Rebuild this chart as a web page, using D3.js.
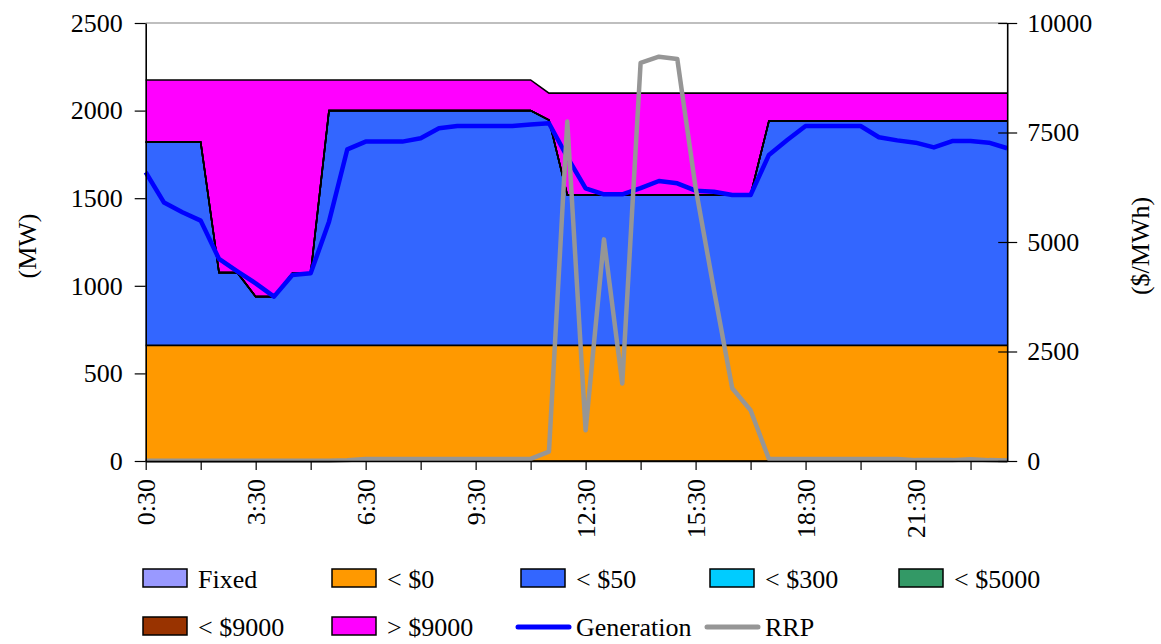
<!DOCTYPE html>
<html>
<head>
<meta charset="utf-8">
<script src="https://cdn.jsdelivr.net/npm/d3@7"></script>
<style>
    body { margin: 0; background: #fff; }
    svg { display: block; font-family: "Liberation Serif", "Times New Roman", serif; }
</style>
</head>
<body>
<div id="chart"></div>
<script>
// ============================================================================
// Half-hourly dispatch bids by price band, with generation and RRP
// ============================================================================

const times = ['0:30', '1:00', '1:30', '2:00', '2:30', '3:00', '3:30', '4:00', '4:30', '5:00', '5:30', '6:00',
    '6:30', '7:00', '7:30', '8:00', '8:30', '9:00', '9:30', '10:00', '10:30', '11:00', '11:30', '12:00',
    '12:30', '13:00', '13:30', '14:00', '14:30', '15:00', '15:30', '16:00', '16:30', '17:00', '17:30', '18:00',
    '18:30', '19:00', '19:30', '20:00', '20:30', '21:00', '21:30', '22:00', '22:30', '23:00', '23:30', '24:00'];

// MW offered in each price band (stacked)
const fixed = [0, 0, 0, 0, 0, 0, 0, 0, 0, 0, 0, 0, 0, 0, 0, 0, 0, 0, 0, 0, 0, 0, 0, 0,
    0, 0, 0, 0, 0, 0, 0, 0, 0, 0, 0, 0, 0, 0, 0, 0, 0, 0, 0, 0, 0, 0, 0, 0];
const below0 = [660, 660, 660, 660, 660, 660, 660, 660, 660, 660, 660, 660, 660, 660, 660, 660, 660, 660, 660, 660, 660, 660, 660, 660,
    660, 660, 660, 660, 660, 660, 660, 660, 660, 660, 660, 660, 660, 660, 660, 660, 660, 660, 660, 660, 660, 660, 660, 660];
const below50 = [1160, 1160, 1160, 1160, 415, 415, 278, 278, 411, 411, 1340, 1340, 1340, 1340, 1340, 1340, 1340, 1340, 1340, 1340, 1340, 1340, 1286, 858,
    858, 858, 858, 858, 858, 858, 858, 858, 858, 858, 1280, 1280, 1280, 1280, 1280, 1280, 1280, 1280, 1280, 1280, 1280, 1280, 1280, 1280];
const below300 = [0, 0, 0, 0, 0, 0, 0, 0, 0, 0, 0, 0, 0, 0, 0, 0, 0, 0, 0, 0, 0, 0, 0, 0,
    0, 0, 0, 0, 0, 0, 0, 0, 0, 0, 0, 0, 0, 0, 0, 0, 0, 0, 0, 0, 0, 0, 0, 0];
const below5000 = [0, 0, 0, 0, 0, 0, 0, 0, 0, 0, 0, 0, 0, 0, 0, 0, 0, 0, 0, 0, 0, 0, 0, 0,
    0, 0, 0, 0, 0, 0, 0, 0, 0, 0, 0, 0, 0, 0, 0, 0, 0, 0, 0, 0, 0, 0, 0, 0];
const below9000 = [0, 0, 0, 0, 0, 0, 0, 0, 0, 0, 0, 0, 0, 0, 0, 0, 0, 0, 0, 0, 0, 0, 0, 0,
    0, 0, 0, 0, 0, 0, 0, 0, 0, 0, 0, 0, 0, 0, 0, 0, 0, 0, 0, 0, 0, 0, 0, 0];
const above9000 = [355, 355, 355, 355, 1100, 1100, 1237, 1237, 1104, 1104, 175, 175, 175, 175, 175, 175, 175, 175, 175, 175, 175, 175, 154, 582,
    582, 582, 582, 582, 582, 582, 582, 582, 582, 582, 160, 160, 160, 160, 160, 160, 160, 160, 160, 160, 160, 160, 160, 160];

// MW generated
const generation = [1648, 1475, 1420, 1372, 1153, 1083, 1014, 938, 1062, 1071, 1366, 1779, 1823, 1823, 1823, 1842, 1899, 1912, 1912, 1912, 1912, 1920, 1928, 1735,
    1556, 1522, 1522, 1557, 1598, 1585, 1543, 1537, 1518, 1518, 1747, 1832, 1912, 1912, 1912, 1912, 1848, 1830, 1817, 1790, 1826, 1826, 1817, 1785];

// Regional reference price, $/MWh
const rrp = [5, 5, 5, 5, 5, 5, 5, 5, 5, 5, 5, 20, 45, 45, 45, 45, 45, 45, 45, 45, 45, 50, 212, 7750,
    700, 5060, 1770, 9090, 9230, 9180, 6240, 3910, 1660, 1160, 45, 45, 45, 45, 45, 45, 45, 45, 20, 20, 20, 40, 20, 10];

const bandKeys = ['Fixed', '< $0', '< $50', '< $300', '< $5000', '< $9000', '> $9000'];
const bandValues = [fixed, below0, below50, below300, below5000, below9000, above9000];
const bandColors = ['#9999FF', '#FF9900', '#3366FF', '#00CCFF', '#339966', '#993300', '#FF00FF'];

const leftTicks = [0, 500, 1000, 1500, 2000, 2500];
const rightTicks = [0, 2500, 5000, 7500, 10000];

// ----------------------------------------------------------------------------
const width = 1161, height = 644;
const plot = { left: 145.7, right: 1007.2, top: 23, bottom: 461 };
const FONT = '26px';
const FAMILY = '"Liberation Serif", "Times New Roman", serif';

const svg = d3.select('#chart').append('svg')
    .attr('width', width).attr('height', height);

const xScale = d3.scalePoint().domain(times).range([plot.left, plot.right]);
const yLeft = d3.scaleLinear().domain([0, 2500]).range([plot.bottom, plot.top]);
const yRight = d3.scaleLinear().domain([0, 10000]).range([plot.bottom, plot.top]);

// Grid (only the top one shows above the areas)
svg.append('g').selectAll('line')
    .data(leftTicks)
    .join('line')
    .attr('x1', plot.left).attr('x2', plot.right)
    .attr('y1', d => yLeft(d)).attr('y2', d => yLeft(d))
    .attr('stroke', '#808080').attr('stroke-width', 1.2);

// Stacked bands
const table = times.map((t, i) => {
    const row = { t };
    bandKeys.forEach((k, j) => { row[k] = bandValues[j][i]; });
    return row;
});
const series = d3.stack().keys(bandKeys)(table);

const area = d3.area()
    .x(d => xScale(d.data.t))
    .y0(d => yLeft(d[0]))
    .y1(d => yLeft(d[1]));

svg.append('g').selectAll('path')
    .data(series)
    .join('path')
    .attr('d', area)
    .attr('fill', (d, i) => bandColors[i]);

const topLine = d3.line()
    .x(d => xScale(d.data.t))
    .y(d => yLeft(d[1]));

svg.append('g').selectAll('path')
    .data(series)
    .join('path')
    .attr('d', topLine)
    .attr('fill', 'none')
    .attr('stroke', '#000')
    .attr('stroke-width', 1.6);

// Generation and RRP lines
const genLine = d3.line()
    .x((d, i) => xScale(times[i]))
    .y(d => yLeft(d));

svg.append('path')
    .datum(generation)
    .attr('d', genLine)
    .attr('fill', 'none')
    .attr('stroke', '#0000FF')
    .attr('stroke-width', 4.5)
    .attr('stroke-linejoin', 'round');

const rrpLine = d3.line()
    .x((d, i) => xScale(times[i]))
    .y(d => yRight(d));

svg.append('path')
    .datum(rrp)
    .attr('d', rrpLine)
    .attr('fill', 'none')
    .attr('stroke', '#969696')
    .attr('stroke-width', 4.5)
    .attr('stroke-linejoin', 'round');

// Axes
const leftAxis = svg.append('g')
    .attr('transform', `translate(${plot.left},0)`)
    .call(d3.axisLeft(yLeft).tickValues(leftTicks).tickFormat(d3.format('d'))
        .tickSize(11).tickSizeOuter(0).tickPadding(12));

const rightAxis = svg.append('g')
    .attr('transform', `translate(${plot.right},0)`)
    .call(d3.axisRight(yRight).tickValues(rightTicks).tickFormat(d3.format('d'))
        .tickSize(10).tickSizeOuter(0).tickPadding(10));
rightAxis.selectAll('.tick line').attr('x1', -9);

const bottomAxis = svg.append('g')
    .attr('transform', `translate(0,${plot.bottom})`)
    .call(d3.axisBottom(xScale)
        .tickValues(times.filter((t, i) => i % 3 === 0))
        .tickSize(9).tickSizeOuter(0)
        .tickFormat(() => ''));

[leftAxis, rightAxis, bottomAxis].forEach(ax => {
    ax.attr('color', '#000').attr('font-family', FAMILY).attr('font-size', FONT);
    ax.select('.domain').attr('stroke-width', 1.6);
    ax.selectAll('.tick line').attr('stroke-width', 1.2);
});

// Rotated time labels
svg.append('g').selectAll('text')
    .data(times.filter((t, i) => i % 6 === 0))
    .join('text')
    .attr('transform', d => `translate(${xScale(d)},${plot.bottom + 18}) rotate(-90)`)
    .attr('text-anchor', 'end')
    .attr('dy', '0.35em')
    .style('font-size', FONT)
    .text(d => d);

// Axis titles
svg.append('text')
    .attr('transform', 'translate(27,246) rotate(-90)')
    .attr('text-anchor', 'middle')
    .attr('dy', '0.35em')
    .style('font-size', FONT)
    .text('(MW)');

svg.append('text')
    .attr('transform', 'translate(1140,246) rotate(-90)')
    .attr('text-anchor', 'middle')
    .attr('dy', '0.35em')
    .style('font-size', FONT)
    .text('($/MWh)');

// Legend
const legendCols = [143, 332, 521, 710, 899];
const legendRows = [588, 636];
const legendItems = bandKeys.map((k, i) => ({ label: k, color: bandColors[i], type: 'box' }))
    .concat([
        { label: 'Generation', color: '#0000FF', type: 'line' },
        { label: 'RRP', color: '#969696', type: 'line' }
    ]);

const legend = svg.append('g');
legendItems.forEach((item, i) => {
    const x = legendCols[i % 5];
    const base = legendRows[Math.floor(i / 5)];
    if (item.type === 'box') {
        legend.append('rect')
            .attr('x', x).attr('y', base - 19)
            .attr('width', 44).attr('height', 18)
            .attr('fill', item.color)
            .attr('stroke', '#000').attr('stroke-width', 1.5);
    } else {
        legend.append('line')
            .attr('x1', x - 3).attr('x2', x + 48)
            .attr('y1', base - 9).attr('y2', base - 9)
            .attr('stroke', item.color)
            .attr('stroke-width', 5)
            .attr('stroke-linecap', 'round');
    }
    legend.append('text')
        .attr('x', x + 55).attr('y', base)
        .style('font-size', FONT)
        .text(item.label);
});
</script>
</body>
</html>
